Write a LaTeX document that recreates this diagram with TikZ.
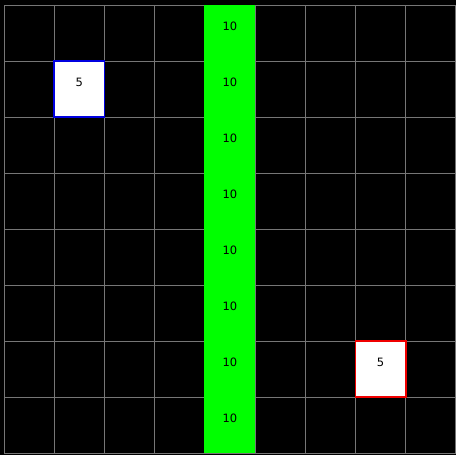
\documentclass[tikz,border=0pt]{standalone}
\usepackage{fontspec}
\setmainfont{DejaVu Sans}
\usepackage{xcolor}
\definecolor{gridGray}{HTML}{767676}
\definecolor{laneGreen}{HTML}{00FF00}
\definecolor{tokBlue}{HTML}{0000E0}
\definecolor{tokRed}{HTML}{F00000}
\usetikzlibrary{positioning}

\begin{document}
\begin{tikzpicture}[
		x=1pt, y=-1pt,
		cell/.style={
			draw=gridGray,
			line width=1pt,
			minimum width=50.22pt,
			minimum height=56pt,
			inner sep=0pt,
			outer sep=0pt
		},
		lane/.style={
			fill=laneGreen,
			minimum width=51pt,
			minimum height=56pt,
			inner sep=0pt
		},
		token/.style={
			fill=white,
			line width=1.5pt,
			minimum width=50.22pt,
			minimum height=56pt,
			inner sep=0pt
		},
		num/.style={font=\fontsize{11.5}{13}\selectfont, yshift=6.5pt, inner sep=0pt}
		]
		
		\fill[black] (0,0) rectangle (456,455);
		\useasboundingbox (0,0) rectangle (456,455);
		
		% grid
		\foreach \c in {0,...,8}
			\foreach \r in {0,...,7}
				\node[cell] (cell-\c-\r) at ({4+50.22*(\c+0.5)}, {5+56*(\r+0.5)}) {};
		
		% green lane
		\foreach \r in {0,...,7} {
			\node[lane] (lane-\r) at (cell-4-\r) {};
			\node[num] (lanenum-\r) at (lane-\r) {10};
		}
		
		% tokens
		\node[token, draw=tokBlue] (blueTok) at (cell-1-1) {};
		\node[num] (blueNum) at (blueTok) {5};
		\node[token, draw=tokRed] (redTok) at (cell-7-6) {};
		\node[num] (redNum) at (redTok) {5};
		
	\end{tikzpicture}
\end{document}
